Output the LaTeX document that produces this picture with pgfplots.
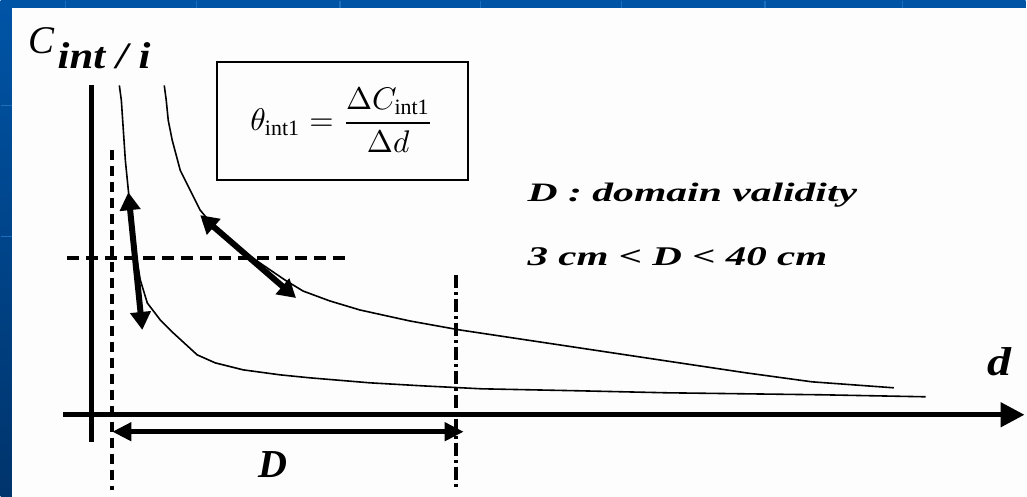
\documentclass[border=0pt]{standalone}
\usepackage{fontspec}
\setmainfont{Liberation Serif}
\usepackage{graphicx}
\usepackage{pgfplots}
\pgfplotsset{compat=1.18}
\usetikzlibrary{arrows.meta}

\definecolor{slidetop}{RGB}{0,84,166}
\definecolor{slidebot}{RGB}{0,52,108}
\definecolor{slidegrid}{RGB}{30,110,190}
\definecolor{panel}{RGB}{253,253,253}

% concentration curves for two sources, in page units (y grows downward)
\pgfplotstableread{
x y
119 85
121 100
123 130
125 160
128 190
131 220
135 250
140 280
147 303
160 320
173 333
197 355
215 363
243 370
280 375
310 378
370 383
422 386
482 389
580 391
668 393
823 395
927 397
}\lowcurve

\pgfplotstableread{
x y
164 85
166 100
168 120
172 140
176 155
180 170
190 190
200 210
215 228
235 245
260 263
285 280
303 291
330 301
360 310
410 321
460 330
520 339
580 348
660 360
747 373
813 382
895 388
}\highcurve

\begin{document}
\begin{tikzpicture}
\begin{axis}[
  width=1027pt, height=497pt, scale only axis,
  xmin=0, xmax=1027, ymin=0, ymax=497, y dir=reverse,
  axis lines=none, clip=false,
]
% slide frame
\shade[top color=slidetop, bottom color=slidebot] (axis cs:0,0) rectangle (axis cs:1027,497);
\pgfplotsinvokeforeach{65,196,340,481,622,766,904}{
  \draw[slidegrid, line width=1.2pt] (axis cs:#1,0) -- (axis cs:#1,7);
}
\pgfplotsinvokeforeach{105,236}{
  \draw[slidegrid, line width=1.2pt] (axis cs:0,#1) -- (axis cs:11,#1);
}
\fill[panel] (axis cs:11,7) rectangle (axis cs:1027,497);

% axes
\addplot[black, line width=4.5pt] coordinates {(91,85) (91,442)};
\addplot[black, line width=5pt, -{Triangle[length=24pt,width=24pt]}] coordinates {(63,415) (1026,415)};

% guide lines
\addplot[black, line width=4pt, dash pattern=on 10pt off 6pt] coordinates {(112,150) (112,490)};
\addplot[black, line width=4pt, dash pattern=on 12pt off 7pt] coordinates {(67,258) (350,258)};
\addplot[black, line width=4pt, dash pattern=on 13pt off 4pt on 3pt off 4pt] coordinates {(456,275) (456,487)};

% curves
\addplot[black, line width=1.6pt] table[x=x, y=y] {\lowcurve};
\addplot[black, line width=1.6pt] table[x=x, y=y] {\highcurve};

% slopes
\addplot[black, line width=6pt, {Triangle[length=18pt,width=20pt]}-{Triangle[length=18pt,width=20pt]}] coordinates {(128,192) (142,330)};
\addplot[black, line width=6pt, {Triangle[length=18pt,width=20pt]}-{Triangle[length=18pt,width=20pt]}] coordinates {(200,215) (296,298)};

% validity range
\addplot[black, line width=4.5pt, {Triangle[length=19pt,width=18pt]}-{Triangle[length=19pt,width=18pt]}] coordinates {(112,432) (464,432)};

% formula box
\draw[black, line width=2pt] (axis cs:217,62) rectangle (axis cs:468,180);
\node[anchor=west, inner sep=0pt] at (axis cs:250,120)
  {\resizebox{184pt}{!}{$\displaystyle\theta_{\mathrm{int1}}=\frac{\Delta C_{\mathrm{int1}}}{\Delta d}$}};

% labels
\node[anchor=base west, inner sep=0pt] at (axis cs:28,53) {\resizebox{26pt}{26pt}{\itshape C}};
\node[anchor=base west, inner sep=0pt] at (axis cs:57,68) {\resizebox{93pt}{26pt}{\bfseries\itshape int / i}};
\node[anchor=base west, inner sep=0pt] at (axis cs:528,201) {\resizebox{330pt}{18.5pt}{\bfseries\itshape D : domain validity}};
\node[anchor=base west, inner sep=0pt] at (axis cs:528,265) {\resizebox{300pt}{18pt}{\bfseries\itshape 3 cm < D < 40 cm}};
\node[anchor=base west, inner sep=0pt] at (axis cs:258,478) {\resizebox{29pt}{26pt}{\bfseries\itshape D}};
\node[anchor=base west, inner sep=0pt] at (axis cs:989,376) {\resizebox{24pt}{28pt}{\bfseries\itshape d}};
\end{axis}
\end{tikzpicture}
\end{document}
